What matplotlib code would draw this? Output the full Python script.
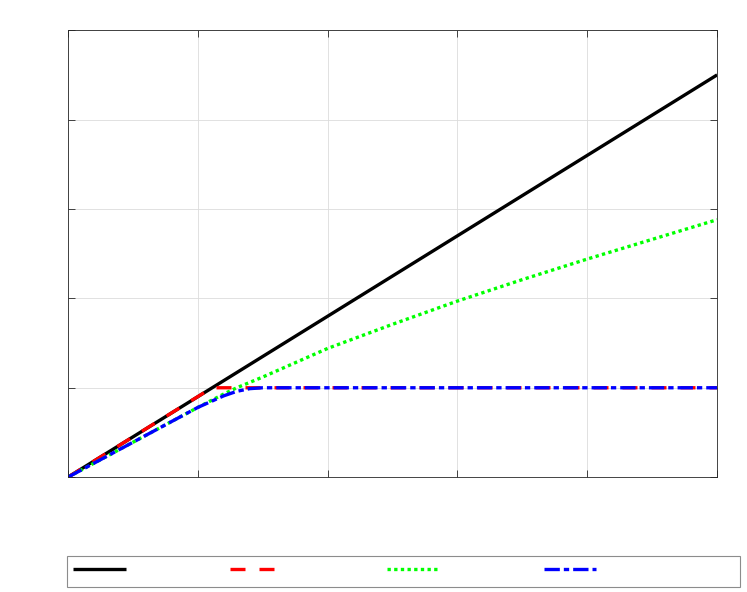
import matplotlib.pyplot as plt

# curves (grid units, 0..5 on both axes)
x_black = [0, 5]
y_black = [0, 4.5]

x_red = [0, 1.11, 5]
y_red = [0, 1.0, 1.0]

x_green = [0, 0.5, 1.0, 1.2, 1.3, 1.5, 1.75, 2.0, 2.5, 3.0, 3.5, 4.0, 4.5, 5.0]
y_green = [0, 0.39, 0.78, 0.93, 1.0, 1.12, 1.28, 1.44, 1.71, 1.97, 2.21, 2.44, 2.66, 2.88]

x_blue = [0, 0.5, 1.0, 1.2, 1.3, 1.4, 1.5, 5.0]
y_blue = [0, 0.39, 0.78, 0.91, 0.96, 0.99, 1.0, 1.0]

x_ticks = [0, 1, 2, 3, 4, 5]
y_ticks = [0, 1, 2, 3, 4, 5]

fig = plt.figure(figsize=(7.47, 5.92), dpi=100)
ax = fig.add_axes([0.091, 0.194, 0.869, 0.755])

lw = 2.4
h1, = ax.plot(x_black, y_black, color="black", lw=lw, solid_capstyle="butt")
h2, = ax.plot(x_red, y_red, color="#ff0000", lw=lw, linestyle=(0, (4.5, 4.2)), dash_capstyle="butt")
h3, = ax.plot(x_green, y_green, color="#00ff00", lw=lw, linestyle=(0, (1, 1)), dash_capstyle="butt")
h4, = ax.plot(x_blue, y_blue, color="#0000ff", lw=lw, linestyle=(0, (4.6, 1.2, 1.6, 1.2)), dash_capstyle="butt")

ax.set_xlim(0, 5)
ax.set_ylim(0, 5)
ax.set_xticks(x_ticks)
ax.set_yticks(y_ticks)
ax.set_xticklabels([])
ax.set_yticklabels([])
ax.tick_params(direction="in", top=True, right=True, length=5, width=0.6, color="#262626")
ax.grid(True, color="#dcdcdc", linewidth=0.6)
for spine in ax.spines.values():
    spine.set_linewidth(0.6)
    spine.set_edgecolor("#262626")

# legend below the axes, labels are empty in the reference
leg = fig.legend(
    [h1, h2, h3, h4], ["", "", "", ""],
    loc="lower left", bbox_to_anchor=(0.090, 0.0084, 0.900, 0.054),
    mode="expand", ncol=4, handlelength=3.8, handleheight=1.8,
    handletextpad=9.9, fancybox=False, borderpad=0.4,
    borderaxespad=0, frameon=True, fontsize=10,
)
leg.get_frame().set_edgecolor("#707070")
leg.get_frame().set_linewidth(0.8)

fig.savefig("out.png", dpi=100)
